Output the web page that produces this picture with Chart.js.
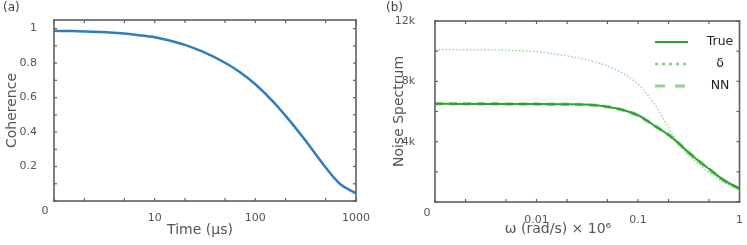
<!DOCTYPE html>
<html><head><meta charset="utf-8">
<script src="https://cdn.jsdelivr.net/npm/chart.js@4/dist/chart.umd.min.js"></script>
<style>
html,body{margin:0;padding:0;background:#fff;width:747px;height:245px;overflow:hidden}
#a{position:absolute;left:0;top:0}
#b{position:absolute;left:373px;top:0}
</style></head><body>
<canvas id="a" width="373" height="245"></canvas>
<canvas id="b" width="374" height="245"></canvas>
<script>
// ---- Panel (a) data ----
const timeUs = [1, 1.5, 2, 3, 5, 7, 10, 15, 20, 30, 50, 70, 100, 150, 200, 300, 500, 700, 1000];
const coherence = [0.987, 0.986, 0.984, 0.980, 0.971, 0.962, 0.950, 0.927, 0.906, 0.866, 0.802, 0.748, 0.677, 0.577, 0.494, 0.367, 0.194, 0.097, 0.044];
const timeTicks = [1, 2, 5, 10, 20, 50, 100, 200, 500, 1000];
const timeTickLabels = ['0', '', '', '10', '', '', '100', '', '', '1000'];
const coherenceTicks = [0, 0.1, 0.2, 0.3, 0.4, 0.5, 0.6, 0.7, 0.8, 0.9, 1.0];
const coherenceTickLabels = ['', '', '0.2', '', '0.4', '', '0.6', '', '0.8', '', '1'];

// ---- Panel (b) data ----
const omega = [0.001, 0.002, 0.005, 0.01, 0.02, 0.03, 0.05, 0.07, 0.1, 0.125, 0.15, 0.175, 0.2, 0.25, 0.3, 0.4, 0.5, 0.7, 1.0];
const spectrumTrue  = [6510, 6505, 6500, 6495, 6480, 6460, 6320, 6120, 5750, 5360, 5000, 4710, 4450, 3910, 3420, 2700, 2200, 1450, 880];
const spectrumDelta = [10110, 10090, 10060, 9960, 9680, 9450, 9020, 8550, 7820, 7090, 6350, 5600, 4920, 3870, 3230, 2490, 1960, 1300, 830];
const spectrumNN    = [6520, 6510, 6505, 6490, 6475, 6450, 6310, 6110, 5740, 5350, 5010, 4720, 4460, 3900, 3410, 2690, 2190, 1440, 870];
const omegaTicks = [0.001, 0.002, 0.005, 0.01, 0.02, 0.05, 0.1, 0.2, 0.5, 1];
const omegaTickLabels = ['0', '', '', '0.01', '', '', '0.1', '', '', '1'];
const spectrumTicks = [0, 2000, 4000, 6000, 8000, 10000, 12000];
const spectrumTickLabels = ['', '', '4k', '', '8k', '', '12k'];

Chart.defaults.font.family = '"DejaVu Sans", Verdana, sans-serif';
Chart.defaults.color = '#555';

const pts = (xs, ys) => xs.map((x, i) => ({x, y: ys[i]}));

const framePlugin = {
  id: 'frame',
  afterDatasetsDraw(chart, args, o) {
    const {ctx, chartArea: a, scales: {x, y}} = chart;
    ctx.save();
    ctx.globalAlpha = 1;
    ctx.globalCompositeOperation = 'source-over';
    ctx.setLineDash([]);
    ctx.fillStyle = '#606060';
    const w = 1.6, L = 3, tw = 1.2;
    const W = a.right - a.left, H = a.bottom - a.top;
    // box
    ctx.fillRect(a.left - w / 2, a.top - w / 2, W + w, w);
    ctx.fillRect(a.left - w / 2, a.bottom - w / 2, W + w, w);
    ctx.fillRect(a.left - w / 2, a.top - w / 2, w, H + w);
    ctx.fillRect(a.right - w / 2, a.top - w / 2, w, H + w);
    // inward tick marks on all four sides
    x.ticks.forEach(t => {
      const p = x.getPixelForValue(t.value);
      ctx.fillRect(p - tw / 2, a.bottom - L, tw, L);
      ctx.fillRect(p - tw / 2, a.top, tw, L);
    });
    y.ticks.forEach(t => {
      const p = y.getPixelForValue(t.value);
      ctx.fillRect(a.left, p - tw / 2, L, tw);
      ctx.fillRect(a.right - L, p - tw / 2, L, tw);
    });
    // "0" label at the axis origin
    ctx.fillStyle = '#555';
    ctx.font = '11px "DejaVu Sans"';
    ctx.textAlign = 'center';
    ctx.textBaseline = 'middle';
    ctx.fillText(o.zeroLabel, a.left - o.zeroOffset, a.bottom + o.zeroDy);
    // x-axis title
    ctx.font = '14px "DejaVu Sans"';
    ctx.fillText(o.xTitle, o.xTitleX, o.xTitleY);
    // panel label
    ctx.fillStyle = '#444';
    ctx.font = '12px "DejaVu Sans"';
    ctx.textAlign = 'left';
    ctx.fillText(o.panel, o.panelX, 8);
    // legend
    if (o.legend) {
      o.legend.forEach(item => {
        const ds = chart.data.datasets[item.ds];
        ctx.strokeStyle = ds.borderColor;
        ctx.lineWidth = item.width;
        ctx.setLineDash(item.dash);
        ctx.beginPath();
        ctx.moveTo(o.legendX0, item.y);
        ctx.lineTo(o.legendX1, item.y);
        ctx.stroke();
        ctx.setLineDash([]);
        ctx.fillStyle = '#222';
        ctx.font = '12.5px "DejaVu Sans"';
        ctx.textAlign = 'center';
        ctx.fillText(ds.label, o.legendTextX, item.y);
      });
    }
    ctx.restore();
  }
};

new Chart(document.getElementById('a'), {
  type: 'line',
  data: {
    datasets: [{
      label: 'Coherence',
      data: pts(timeUs, coherence),
      borderColor: '#2f7dbf',
      borderWidth: 2.5,
      pointRadius: 0,
      cubicInterpolationMode: 'monotone',
      fill: false
    }]
  },
  options: {
    responsive: false,
    animation: false,
    layout: {padding: {left: 0, top: 20, right: 12, bottom: 0}},
    plugins: {
      legend: {display: false},
      tooltip: {enabled: false},
      frame: {zeroLabel: timeTickLabels[0], zeroOffset: 9, zeroDy: 10, xTitle: 'Time (μs)', xTitleX: 200, xTitleY: 230, panel: '(a)', panelX: 3}
    },
    scales: {
      x: {
        type: 'logarithmic', min: 1, max: 1000,
        afterBuildTicks: s => { s.ticks = timeTicks.map(v => ({value: v})); },
        afterFit: s => { s.height = 44; },
        grid: {display: false}, border: {display: false},
        ticks: {autoSkip: false, maxRotation: 0, padding: 3, font: {size: 11}, color: '#555',
          callback: (v, i) => i === 0 ? '' : timeTickLabels[i]}
      },
      y: {
        type: 'linear', min: 0, max: 1.05,
        afterBuildTicks: s => { s.ticks = coherenceTicks.map(v => ({value: v})); },
        afterFit: s => { s.width = 54; },
        grid: {display: false}, border: {display: false},
        ticks: {autoSkip: false, padding: 9, font: {size: 11}, color: '#555',
          callback: (v, i) => coherenceTickLabels[i]},
        title: {display: true, text: 'Coherence', color: '#555', font: {size: 14}, padding: {top: 4, bottom: 0}}
      }
    }
  },
  plugins: [framePlugin]
});

new Chart(document.getElementById('b'), {
  type: 'line',
  data: {
    datasets: [
      {label: 'True', data: pts(omega, spectrumTrue), borderColor: '#2ea22e', borderWidth: 2,
       pointRadius: 0, cubicInterpolationMode: 'monotone', fill: false, order: 1},
      {label: 'δ', data: pts(omega, spectrumDelta), borderColor: '#86cf86', borderWidth: 1.2, borderDash: [1.5, 2],
       pointRadius: 0, cubicInterpolationMode: 'monotone', fill: false, order: 3},
      {label: 'NN', data: pts(omega, spectrumNN), borderColor: '#93d193', borderWidth: 3.5, borderDash: [8, 6],
       pointRadius: 0, cubicInterpolationMode: 'monotone', fill: false, order: 2}
    ]
  },
  options: {
    responsive: false,
    animation: false,
    layout: {padding: {left: 0, top: 21, right: 5, bottom: 0}},
    plugins: {
      legend: {display: false},
      tooltip: {enabled: false},
      frame: {zeroLabel: omegaTickLabels[0], zeroOffset: 8, zeroDy: 11, xTitle: 'ω (rad/s) × 10⁶', xTitleX: 185, xTitleY: 229,
        panel: '(b)', panelX: 13,
        legendX0: 282, legendX1: 315, legendTextX: 347,
        legend: [
          {ds: 0, y: 42, width: 2, dash: []},
          {ds: 1, y: 64, width: 2.5, dash: [3, 4]},
          {ds: 2, y: 86, width: 3, dash: [10, 10]}
        ]}
    },
    scales: {
      x: {
        type: 'logarithmic', min: 0.001, max: 1,
        afterBuildTicks: s => { s.ticks = omegaTicks.map(v => ({value: v})); },
        afterFit: s => { s.height = 43; },
        grid: {display: false}, border: {display: false},
        ticks: {autoSkip: false, maxRotation: 0, padding: 4, font: {size: 11}, color: '#555',
          callback: (v, i) => i === 0 ? '' : omegaTickLabels[i]}
      },
      y: {
        type: 'linear', min: 0, max: 12000,
        afterBuildTicks: s => { s.ticks = spectrumTicks.map(v => ({value: v})); },
        afterFit: s => { s.width = 62; },
        grid: {display: false}, border: {display: false},
        ticks: {autoSkip: false, padding: 12, font: {size: 11}, color: '#555',
          callback: (v, i) => spectrumTickLabels[i]},
        title: {display: true, text: 'Noise Spectrum', color: '#555', font: {size: 14}, padding: {top: 18, bottom: 0}}
      }
    }
  },
  plugins: [framePlugin]
});
</script>
</body></html>
